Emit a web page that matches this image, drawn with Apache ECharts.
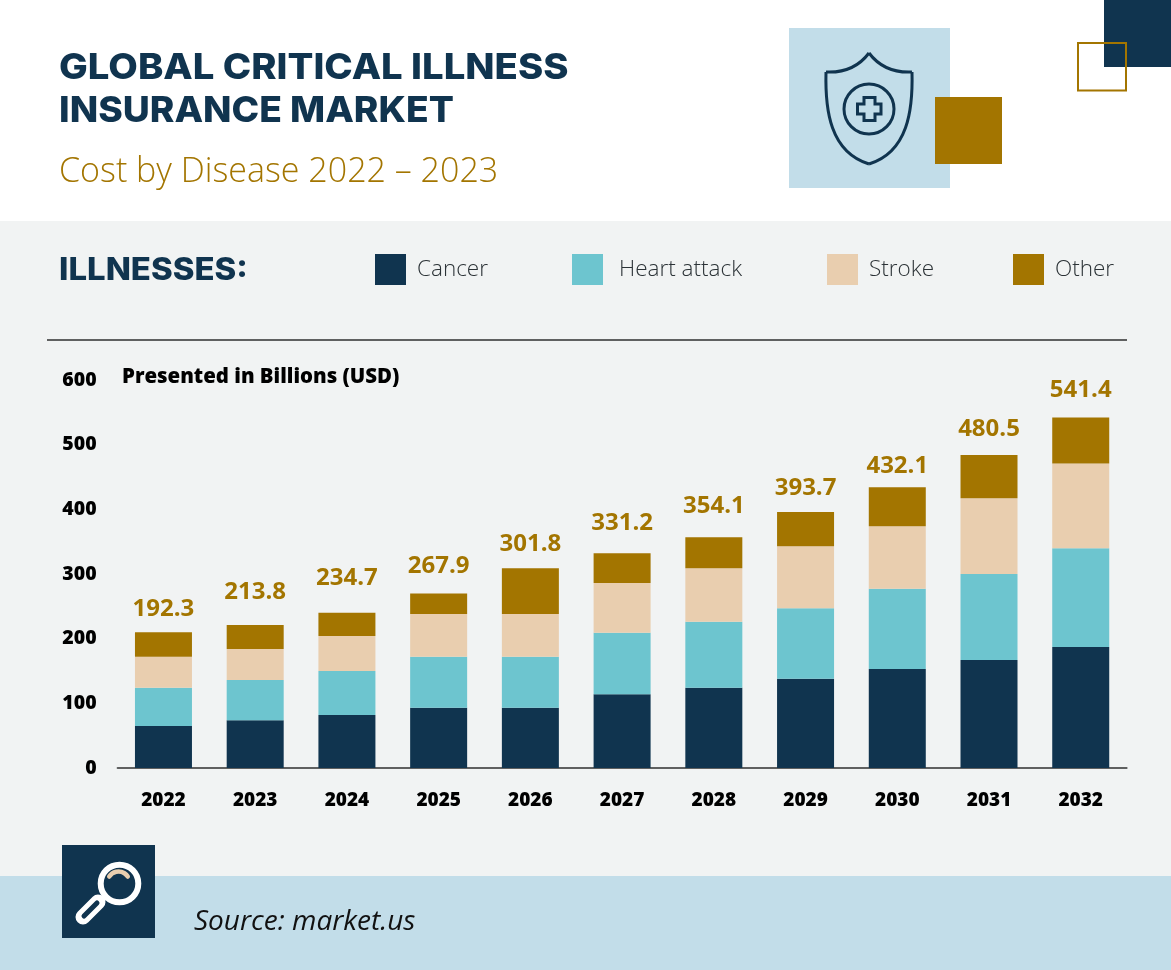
<!DOCTYPE html>
<html><head><meta charset="utf-8">
<style>html,body{margin:0;padding:0;background:#f1f3f3}#c{width:1171px;height:970px}</style>
<script src="https://cdn.jsdelivr.net/npm/echarts@6/dist/echarts.min.js"></script>
</head><body><div id="c"></div>
<script>
const years = ['2022','2023','2024','2025','2026','2027','2028','2029','2030','2031','2032'];
const cancer = [65,74,82,93,93,114,124,138,153,167,187];
const heart  = [59,62,68,79,79,95,102,109,124,133,153];
const stroke = [48,48,54,66,66,77,83,96,97,117,131];
const other  = [38,37,36,32,71,46,48,53,60,67,71];
const totals = ['192.3','213.8','234.7','267.9','301.8','331.2','354.1','393.7','432.1','480.5','541.4'];
const yTicks = [0,100,200,300,400,500,600];
const totalLabelLift = [6,16,18,10,7,13,14,7,4,9,10];

const NAVY='#10344f', TEAL='#6dc5cf', PEACH='#e9ceaf', GOLD='#a37500', SKY='#c2dde9', GREY='#5f6060';
const sans='"Open Sans", sans-serif', head='Inter, "Open Sans", sans-serif';
const chart = echarts.init(document.getElementById('c'));

function bar(name,data,color,extra){
  return Object.assign({name,type:'bar',stack:'t',data,barWidth:57,itemStyle:{color},emphasis:{disabled:true}},extra||{});
}
function legendAt(name,left,gap){
  return {data:[name],left,top:254,itemWidth:31,itemHeight:31,padding:0,icon:'rect',selectedMode:false,
    textStyle:{fontFamily:sans,fontSize:22.5,fontWeight:300,color:'#2b3236',padding:[6,0,0,gap]}};
}
function text(x,y,t,font,fill,extra,sx){
  return {type:'text',x,y,scaleX:sx||1,silent:true,style:Object.assign({text:t,font,fill,textVerticalAlign:'middle'},extra||{})};
}
function curve(x1,y1,cpx1,cpy1,cpx2,cpy2,x2,y2){
  return {type:'bezierCurve',silent:true,shape:{x1,y1,cpx1,cpy1,cpx2,cpy2,x2,y2},style:{fill:'none',stroke:NAVY,lineWidth:3}};
}

chart.setOption({
  animation:false,
  backgroundColor:'#f1f3f3',
  grid:{left:117.6,width:1009,top:380,height:388},
  legend:[legendAt('Cancer',375,6),legendAt('Heart attack',572,11),legendAt('Stroke',827,6),legendAt('Other',1013,6)],
  xAxis:{type:'category',data:years,axisTick:{show:false},
    axisLine:{lineStyle:{color:GREY,width:2}},
    axisLabel:{margin:23,fontFamily:sans,fontSize:19,fontWeight:800,color:'#000'}},
  yAxis:{type:'value',min:0,max:600,interval:100,splitLine:{show:false},axisLine:{show:false},axisTick:{show:false},
    axisLabel:{margin:21,fontFamily:sans,fontSize:19.5,fontWeight:800,color:'#000',padding:[5,0,0,0],
      formatter:v=>yTicks.includes(v)?String(v):''}},
  series:[
    bar('Cancer',cancer,NAVY),
    bar('Heart attack',heart,TEAL),
    bar('Stroke',stroke,PEACH),
    bar('Other',other.map((v,i)=>({value:v,label:{offset:[0,-totalLabelLift[i]]}})),GOLD,{
      label:{show:true,position:'top',distance:5,fontFamily:sans,fontSize:24,fontWeight:700,color:GOLD,
        formatter:p=>totals[p.dataIndex]}
    })
  ],
  graphic:{elements:[
    {type:'rect',silent:true,shape:{x:0,y:0,width:1171,height:221},style:{fill:'#fff'}},
    {type:'rect',silent:true,shape:{x:0,y:876,width:1171,height:94},style:{fill:SKY}},
    {type:'rect',silent:true,shape:{x:789,y:28,width:161,height:160},style:{fill:SKY}},
    {type:'rect',silent:true,shape:{x:935,y:97,width:67,height:67},style:{fill:GOLD}},
    {type:'rect',silent:true,shape:{x:1104,y:0,width:67,height:67},style:{fill:NAVY}},
    {type:'rect',silent:true,shape:{x:1078,y:43,width:48,height:47.5},style:{fill:'none',stroke:GOLD,lineWidth:2}},
    curve(869,53,860,65,846,73,826,72),
    curve(912,72,892,73,878,65,869,53),
    curve(826,72,825,110,830,152,869,164),
    curve(912,72,913,110,908,152,869,164),
    {type:'circle',silent:true,shape:{cx:869,cy:109,r:25},style:{fill:'none',stroke:NAVY,lineWidth:3}},
    {type:'polygon',silent:true,shape:{points:[[864,97.5],[875,97.5],[875,104],[881,104],[881,114],[875,114],[875,120.5],[864,120.5],[864,114],[857.5,114],[857.5,104],[864,104]]},style:{fill:'none',stroke:NAVY,lineWidth:3}},
    {type:'line',silent:true,shape:{x1:47,y1:340,x2:1127,y2:340},style:{stroke:GREY,lineWidth:2}},
    {type:'rect',silent:true,shape:{x:62,y:845,width:93,height:93},style:{fill:NAVY}},
    {type:'circle',silent:true,shape:{cx:119.5,cy:883.5,r:18.8},style:{fill:'none',stroke:'#fff',lineWidth:6}},
    {type:'arc',silent:true,shape:{cx:118.5,cy:882.5,r:11,startAngle:-2.57,endAngle:-0.57},style:{fill:'none',stroke:PEACH,lineWidth:4.5,lineCap:'round'}},
    {type:'line',silent:true,shape:{x1:105,y1:897,x2:99,y2:902},style:{stroke:'#fff',lineWidth:6}},
    {type:'line',silent:true,shape:{x1:98,y1:902,x2:83,y2:917},style:{stroke:'#fff',lineWidth:15,lineCap:'round'}},
    {type:'line',silent:true,shape:{x1:97,y1:903,x2:84,y2:916},style:{stroke:NAVY,lineWidth:5,lineCap:'round'}},
    text(59,68,'GLOBAL CRITICAL ILLNESS','800 36px '+head,NAVY,null,1.063),
    text(59,111,'INSURANCE MARKET','800 36px '+head,NAVY,null,1.034),
    text(59,172,'Cost by Disease 2022 – 2023','300 34px '+sans,GOLD),
    text(59,271,'ILLNESSES:','800 31px '+head,NAVY,null,1.0625),
    text(122,377,'Presented in Billions (USD)','800 20.4px '+sans,'#000'),
    text(194,922,'Source: market.us','italic 400 28px '+sans,'#111')
  ]}
});
</script></body></html>
